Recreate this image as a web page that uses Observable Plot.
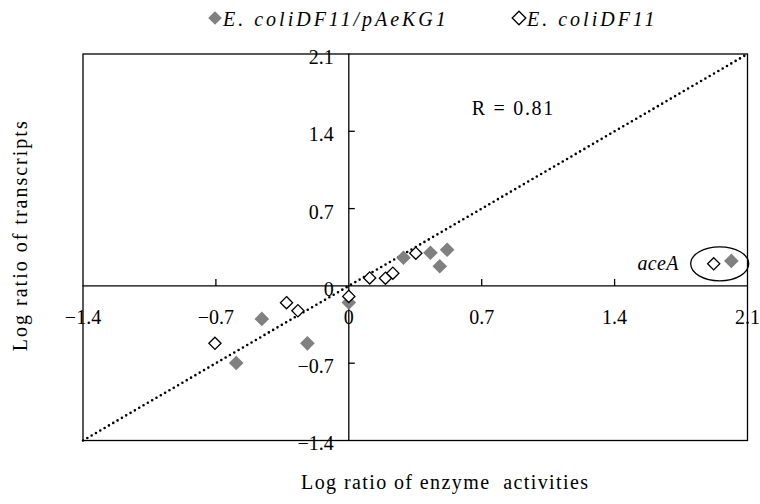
<!DOCTYPE html>
<html>
<head>
<meta charset="utf-8">
<script src="https://cdn.jsdelivr.net/npm/d3@7"></script>
<script src="https://cdn.jsdelivr.net/npm/@observablehq/plot@0.6"></script>
<style>
  html, body { margin: 0; padding: 0; background: #fff; }
  #legend { position: relative; width: 760px; height: 38px; font: italic 20px "Liberation Serif", serif; color: #000; }
  .item { position: absolute; top: 0; height: 38px; display: flex; align-items: center; letter-spacing: 3px; white-space: nowrap; }
</style>
</head>
<body>
<div id="legend"></div>
<div id="chart"></div>
<script>
// ---- data ----
const seriesNames = ["E. coliDF11/pAeKG1", "E. coliDF11"];
const filledX = [-0.593, -0.458, -0.218, 0.0, 0.288, 0.430, 0.479, 0.518, 2.015];
const filledY = [-0.698, -0.299, -0.520, -0.150, 0.255, 0.300, 0.178, 0.327, 0.226];
const openX   = [-0.705, -0.328, -0.268, 0.0, 0.110, 0.193, 0.232, 0.353, 1.922];
const openY   = [-0.520, -0.152, -0.225, -0.095, 0.072, 0.070, 0.115, 0.296, 0.200];
const xTicks = [-1.4, -0.7, 0, 0.7, 1.4, 2.1];
const yTicks = [-1.4, -0.7, 0, 0.7, 1.4, 2.1];
const innerTicks = [-0.7, 0.7, 1.4];
const fitLine = [-1.4, 2.1];          // y = x reference line
const rText = "R = 0.81";
const rPos = {x: 0.867, y: 1.607};
const aceALabel = "aceA";
const aceAIndex = 8;                   // index of the aceA points
const xTitle = "Log ratio of enzyme  activities";
const yTitle = "Log ratio of transcripts";

const filled = filledX.map((x, i) => ({x, y: filledY[i]}));
const open = openX.map((x, i) => ({x, y: openY[i]}));
const fmt = d3.format(".1~f");
const GRAY = "#808080";

// ---- legend ----
const legend = document.getElementById("legend");
const legendItems = [
  {name: seriesNames[0], fill: GRAY, stroke: "none", left: 207},
  {name: seriesNames[1], fill: "#fff", stroke: "#000", left: 511}
];
for (const it of legendItems) {
  const el = document.createElement("div");
  el.className = "item";
  el.style.left = it.left + "px";
  el.innerHTML = `<svg width="16" height="16" viewBox="-8 -8 16 16" style="margin-top:-3px"><path d="M0,-6.8L6.8,0L0,6.8L-6.8,0Z" fill="${it.fill}" stroke="${it.stroke}" stroke-width="1.3"/></svg><span>${it.name}</span>`;
  legend.appendChild(el);
}

// ---- custom symbols ----
const tickUp = {draw(ctx) { ctx.moveTo(0, 0); ctx.lineTo(0, -7); }};
const tickRight = {draw(ctx) { ctx.moveTo(0, 0); ctx.lineTo(6, 0); }};
const ellipse = {draw(ctx) {
  const rx = 29, ry = 17, k = 0.5523;
  ctx.moveTo(rx, 0);
  ctx.bezierCurveTo(rx, ry * k, rx * k, ry, 0, ry);
  ctx.bezierCurveTo(-rx * k, ry, -rx, ry * k, -rx, 0);
  ctx.bezierCurveTo(-rx, -ry * k, -rx * k, -ry, 0, -ry);
  ctx.bezierCurveTo(rx * k, -ry, rx, -ry * k, rx, 0);
  ctx.closePath();
}};

const chart = Plot.plot({
  width: 760,
  height: 466,
  marginLeft: 82.5,
  marginRight: 13,
  marginTop: 15.5,
  marginBottom: 64,
  style: {fontFamily: "'Liberation Serif', serif", fontSize: "20px", color: "#000", background: "#fff"},
  x: {domain: [-1.4, 2.1], axis: null},
  y: {domain: [-1.4, 2.1], axis: null},
  marks: [
    Plot.frame({stroke: "#000", strokeWidth: 1.3}),
    Plot.ruleX([0], {stroke: "#000", strokeWidth: 1.3}),
    Plot.ruleY([0], {stroke: "#000", strokeWidth: 1.3}),
    Plot.dot(innerTicks, {x: d => d, y: 0, symbol: tickUp, fill: "none", stroke: "#000", strokeWidth: 1.3}),
    Plot.dot(innerTicks, {x: 0, y: d => d, symbol: tickRight, fill: "none", stroke: "#000", strokeWidth: 1.3}),
    Plot.text(xTicks, {x: d => d, y: 0, text: d => fmt(d), dy: 32, fontSize: 20, textAnchor: "middle"}),
    Plot.text(yTicks, {x: 0, y: d => d, text: d => fmt(d), dx: -15, dy: 3.5, fontSize: 20, textAnchor: "end"}),
    Plot.line(fitLine.map(v => ({x: v, y: v})), {x: "x", y: "y", stroke: "#000", strokeWidth: 2.6, strokeDasharray: "0 5", strokeLinecap: "round"}),
    Plot.dot(filled, {x: "x", y: "y", symbol: "diamond2", r: 6.6, fill: GRAY, stroke: "none"}),
    Plot.dot(open, {x: "x", y: "y", symbol: "diamond2", r: 5.5, fill: "#fff", stroke: "#000", strokeWidth: 1.3}),
    Plot.dot([open[aceAIndex]], {x: "x", y: "y", symbol: ellipse, dx: 6, fill: "none", stroke: "#000", strokeWidth: 1.3}),
    Plot.text([open[aceAIndex]], {x: "x", y: "y", text: () => aceALabel, dx: -35, dy: 0, textAnchor: "end", fontSize: 20, fontStyle: "italic"}),
    Plot.text([rPos], {x: "x", y: "y", text: () => rText, fontSize: 20, textAnchor: "middle"}),
    Plot.text([xTitle], {text: d => d, frameAnchor: "bottom", dx: 30, dy: 48, fontSize: 20, textAnchor: "middle"}),
    Plot.text([yTitle], {text: d => d, frameAnchor: "left", rotate: -90, dx: -62, dy: -12, fontSize: 20, textAnchor: "middle"})
  ]
});
document.getElementById("chart").appendChild(chart);
// letter spacing for titles (pure styling)
chart.querySelectorAll("text").forEach(t => {
  if (t.textContent === xTitle) t.setAttribute("letter-spacing", "1.4");
  if (t.textContent === yTitle) t.setAttribute("letter-spacing", "2.0");
  if (t.textContent === rText) t.setAttribute("letter-spacing", "1.7");
  if (t.textContent === aceALabel) t.setAttribute("letter-spacing", "0.3");
});
</script>
</body>
</html>
